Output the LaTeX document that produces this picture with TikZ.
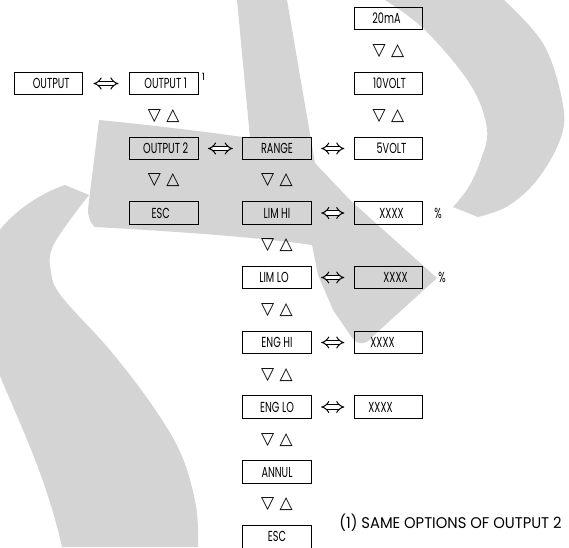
\documentclass[tikz,border=0pt]{standalone}
\usepackage{fontspec}
\setmainfont{Poppins}
\newfontfamily\boxfont[FakeStretch=0.67]{Poppins}
\newfontfamily\notefont[FakeStretch=0.95]{Poppins}
\newfontfamily\symfont{DejaVu Sans}
\usetikzlibrary{arrows.meta}
\definecolor{emblemgrey}{RGB}{212,212,212}

\begin{document}
\begin{tikzpicture}[x=1pt,y=-1pt,
  menubox/.style={draw=black, line width=0.9pt, minimum width=68.5pt,
    minimum height=22.5pt, inner sep=0pt,
    font=\boxfont\fontsize{14.5}{16}\selectfont},
  updown/.style={inner sep=0pt, font=\symfont\fontsize{17}{19}\selectfont},
  swap/.style={double=white, double distance=3.2pt, line width=1pt,
    {Implies}-{Implies}, shorten <=#1, shorten >=#1},
  swap/.default=9.5pt,
  plain/.style={inner sep=0pt, font=\boxfont\fontsize{14.5}{16}\selectfont}]

\useasboundingbox (0,0) rectangle (569,547);

% background "S" emblem
\begin{scope}
\clip (0,0) rectangle (569,547);
% upper right crescent
\fill[emblemgrey] plot[smooth, tension=0.6] coordinates
  {(504,0) (544,45) (563,105) (560,140) (537,180) (508,206) (478,217)}
  -- plot[smooth, tension=0.6] coordinates
  {(453,207) (468,188) (480,162) (487,129) (470,84) (425,30) (385,0)}
  -- cycle;
% stem, arm and pointed wedge
\fill[emblemgrey] (237,0) -- (287,0) -- (315,163) -- (350,200) -- (437,278)
  -- (372,337) .. controls (366,345) and (358,345) .. (353,339)
  -- (333,310) -- (318,275) -- (312,245)
  .. controls (250,236) and (150,230) .. (95,227)
  .. controls (89,222) and (88,215) .. (88,209)
  -- (99,120) .. controls (150,125) and (200,131) .. (250,138) -- cycle;
% lower left swoosh
\fill[emblemgrey] (89,195) -- (65,185)
  .. controls (20,200) and (-40,250) .. (-20,320)
  .. controls (0,390) and (40,450) .. (62,547)
  -- (198,547)
  -- plot[smooth, tension=0.6] coordinates
  {(198,547) (196,506) (181,454) (152,405) (109,349) (62,297) (51,272) (54,244) (89,195)}
  -- cycle;
\end{scope}

% menu boxes
\node[menubox] (ma20)  at (388.5, 18.5) {\kern-2pt 20mA\kern2pt};
\node[menubox] (out)   at ( 48.3, 83.5) {\kern3pt OUTPUT\kern-3pt};
\node[menubox] (out1)  at (163.7, 83.5) {\kern2pt OUTPUT 1\kern-2pt};
\node[menubox] (v10)   at (388.5, 83.5) {\kern1pt 10VOLT\kern-1pt};
\node[menubox] (out2)  at (163.7,148.5) {\kern2pt OUTPUT 2\kern-2pt};
\node[menubox] (range) at (277.0,148.5) {RANGE};
\node[menubox] (v5)    at (388.5,148.5) {\kern3pt 5VOLT\kern-3pt};
\node[menubox] (esc1)  at (163.7,213.0) {\kern-3pt ESC\kern3pt};
\node[menubox] (limhi) at (277.0,213.0) {LIM HI};
\node[menubox] (xhi)   at (388.5,213.0) {\kern3pt XXXX\kern-3pt};
\node[menubox] (limlo) at (277.0,277.5) {\kern-3pt LIM LO\kern3pt};
\node[menubox] (xlo)   at (388.5,277.5) {\kern7pt XXXX\kern-7pt};
\node[menubox] (enghi) at (277.0,342.5) {ENG HI};
\node[menubox] (xeh)   at (388.5,342.5) {\kern-6pt XXXX\kern6pt};
\node[menubox] (englo) at (277.0,407.0) {ENG LO};
\node[menubox] (xel)   at (388.5,407.0) {\kern-8pt XXXX\kern8pt};
\node[menubox] (annul) at (277.0,472.0) {ANNUL};
\node[menubox] (esc2)  at (277.0,536.9) {ESC};

% percent signs, footnote mark and note
\node[plain] (pct1) at (438,213.0) {\%};
\node[plain] (pct2) at (442,277.5) {\%};
\node[inner sep=0pt, font=\fontsize{10}{11}\selectfont] (mark) at (203.5,76.5) {1};
\node[inner sep=0pt, font=\notefont\fontsize{15.5}{17}\selectfont] (note)
  at (450.5,522.7) {(1) SAME OPTIONS OF OUTPUT 2};

% scroll keys between menu entries
\node[updown] (k1) at (388.5, 50.9) {▽ △};
\node[updown] (k2) at (388.5,115.7) {▽ △};
\node[updown] (k3) at (163.7,115.7) {▽ △};
\node[updown] (k4) at (163.7,180.5) {▽ △};
\node[updown] (k5) at (277.0,180.5) {▽ △};
\node[updown] (k6) at (277.0,245.3) {▽ △};
\node[updown] (k7) at (277.0,310.1) {▽ △};
\node[updown] (k8) at (277.0,374.9) {▽ △};
\node[updown] (k9) at (277.0,439.7) {▽ △};
\node[updown] (k10) at (277.0,504.5) {▽ △};

% enter / exit links
\draw[swap=10.5pt] (out.east) -- (out1.west);
\draw[swap] (out2.east) -- (range.west);
\draw[swap] (range.east) -- (v5.west);
\draw[swap] (limhi.east) -- (xhi.west);
\draw[swap] (limlo.east) -- (xlo.west);
\draw[swap] (enghi.east) -- (xeh.west);
\draw[swap] (englo.east) -- (xel.west);
\end{tikzpicture}
\end{document}
